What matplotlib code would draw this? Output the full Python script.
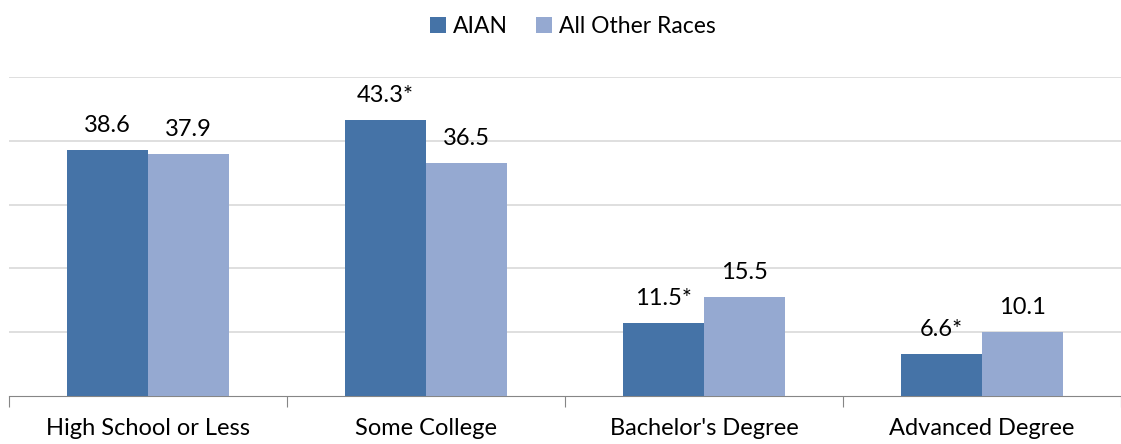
import numpy as np
import matplotlib.pyplot as plt

# datos del grafico
categories = ["High School or Less", "Some College", "Bachelor's Degree", "Advanced Degree"]
aian = [38.6, 43.3, 11.5, 6.6]
other = [37.9, 36.5, 15.5, 10.1]
aian_labels = ["38.6", "43.3*", "11.5*", "6.6*"]
other_labels = ["37.9", "36.5", "15.5", "10.1"]

plt.rcParams['font.family'] = ['Lato', 'DejaVu Sans']

fig = plt.figure(figsize=(11.21, 4.44), dpi=100)
ax = fig.add_axes([9 / 1121, 1 - 396 / 444, 1112 / 1121, (396 - 77) / 444])

x = np.arange(len(categories))
w = 0.29
c1 = '#4573A7'
c2 = '#95A9D1'

b1 = ax.bar(x - w / 2, aian, w, color=c1, label='AIAN', zorder=3)
b2 = ax.bar(x + w / 2, other, w, color=c2, label='All Other Races', zorder=3)

ax.bar_label(b1, labels=aian_labels, padding=10, fontsize=17)
ax.bar_label(b2, labels=other_labels, padding=10, fontsize=17)

ax.set_xlim(-0.5, len(categories) - 0.5)
ax.set_ylim(0, 50)
ax.set_yticks([10, 20, 30, 40, 50])
ax.yaxis.grid(True, color='#D9D9D9', linewidth=1.2, zorder=0)
ax.tick_params(axis='y', left=False, labelleft=False)

for s in ['top', 'right', 'left']:
    ax.spines[s].set_visible(False)
ax.spines['bottom'].set_color('#868686')

# ticks entre categorias
ax.set_xticks(np.arange(-0.5, len(categories), 1.0))
ax.set_xticklabels([])
ax.tick_params(axis='x', length=8, color='#868686')
ax.set_xticks(x, minor=True)
ax.set_xticklabels(categories, minor=True, fontsize=17)
ax.tick_params(axis='x', which='minor', length=0, pad=16)

fig.legend(loc='upper center', bbox_to_anchor=(0.511, 1.01), ncol=2, frameon=False,
           fontsize=16.5, handlelength=0.7, handleheight=0.7, columnspacing=1.2,
           handletextpad=0.3)

fig.savefig('out.png', dpi=100)
